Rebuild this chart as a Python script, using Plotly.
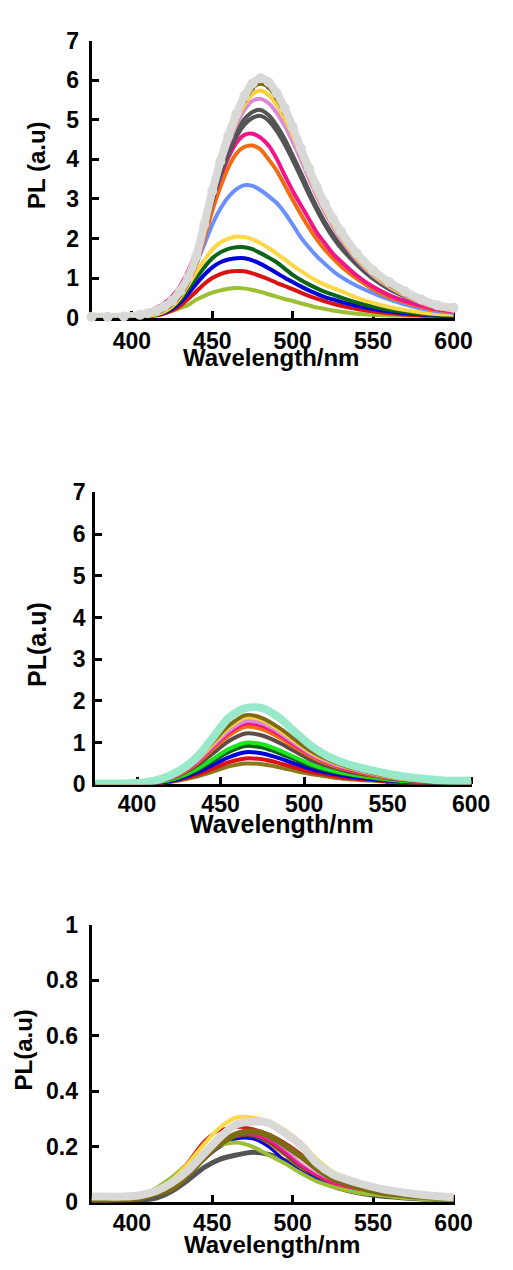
import plotly.graph_objects as go

# ---------------- panel 1 (top) ----------------
wl_a = [375, 385, 395, 405, 410, 415, 420, 425, 430, 435, 440, 445, 450, 455, 460, 465, 470, 475,
        480, 485, 490, 495, 500, 505, 510, 515, 520, 525, 530, 540, 550, 560, 570, 580, 590, 600]

a_grey = [0.02, 0.02, 0.03, 0.07, 0.11, 0.18, 0.28, 0.43, 0.68, 1.02, 1.55, 2.35, 3.2, 3.95, 4.6, 5.15, 5.6, 5.92,
          6.05, 5.95, 5.68, 5.3, 4.82, 4.28, 3.78, 3.3, 2.88, 2.5, 2.18, 1.62, 1.2, 0.9, 0.66, 0.46, 0.31, 0.25]
a_olive = [0.0, 0.01, 0.02, 0.05, 0.09, 0.15, 0.25, 0.4, 0.65, 1.0, 1.53, 2.32, 3.15, 3.9, 4.52, 5.05, 5.48, 5.8,
           5.92, 5.82, 5.55, 5.18, 4.72, 4.2, 3.7, 3.22, 2.8, 2.42, 2.1, 1.55, 1.13, 0.83, 0.6, 0.41, 0.27, 0.21]
a_gold = [0.0, 0.01, 0.02, 0.05, 0.08, 0.14, 0.24, 0.39, 0.63, 0.98, 1.5, 2.28, 3.1, 3.85, 4.45, 4.97, 5.38, 5.65,
          5.74, 5.63, 5.38, 5.03, 4.6, 4.12, 3.62, 3.15, 2.73, 2.36, 2.04, 1.5, 1.09, 0.8, 0.57, 0.39, 0.25, 0.19]
a_orchid = [0.0, 0.01, 0.02, 0.05, 0.08, 0.14, 0.23, 0.38, 0.62, 0.97, 1.48, 2.25, 3.05, 3.8, 4.38, 4.87, 5.25, 5.48,
            5.53, 5.42, 5.18, 4.85, 4.45, 4.0, 3.52, 3.07, 2.66, 2.3, 1.98, 1.45, 1.06, 0.77, 0.55, 0.37, 0.24, 0.18]
a_dgrey1 = [0.0, 0.01, 0.02, 0.05, 0.08, 0.13, 0.22, 0.37, 0.6, 0.95, 1.45, 2.2, 3.0, 3.7, 4.25, 4.7, 5.02, 5.2,
            5.25, 5.12, 4.86, 4.52, 4.1, 3.67, 3.22, 2.8, 2.42, 2.1, 1.82, 1.38, 1.02, 0.75, 0.56, 0.4, 0.28, 0.22]
a_dgrey2 = [0.0, 0.01, 0.02, 0.04, 0.07, 0.13, 0.21, 0.36, 0.58, 0.92, 1.42, 2.15, 2.92, 3.6, 4.13, 4.57, 4.88, 5.05,
            5.1, 4.98, 4.72, 4.38, 3.98, 3.56, 3.12, 2.72, 2.35, 2.03, 1.76, 1.33, 0.98, 0.72, 0.53, 0.38, 0.26, 0.2]
a_pink = [0.0, 0.01, 0.03, 0.09, 0.15, 0.24, 0.36, 0.54, 0.8, 1.18, 1.68, 2.3, 2.95, 3.55, 4.05, 4.42, 4.62, 4.65,
          4.55, 4.35, 4.02, 3.6, 3.2, 2.85, 2.5, 2.15, 1.88, 1.62, 1.42, 1.06, 0.78, 0.57, 0.42, 0.3, 0.21, 0.16]
a_orange = [0.0, 0.01, 0.02, 0.04, 0.07, 0.12, 0.2, 0.33, 0.55, 0.88, 1.35, 2.0, 2.7, 3.3, 3.8, 4.15, 4.32, 4.35,
            4.25, 4.0, 3.72, 3.35, 2.98, 2.62, 2.28, 1.98, 1.72, 1.5, 1.3, 0.98, 0.72, 0.52, 0.39, 0.27, 0.19, 0.15]
a_cornflower = [0.0, 0.0, 0.01, 0.03, 0.06, 0.12, 0.2, 0.34, 0.55, 0.9, 1.35, 1.85, 2.35, 2.75, 3.05, 3.25, 3.35, 3.33,
                3.22, 3.07, 2.9, 2.65, 2.35, 2.03, 1.78, 1.55, 1.36, 1.18, 1.03, 0.8, 0.62, 0.46, 0.33, 0.23, 0.16, 0.12]
a_yellow = [0.0, 0.0, 0.01, 0.02, 0.04, 0.08, 0.15, 0.28, 0.5, 0.82, 1.15, 1.45, 1.72, 1.9, 2.0, 2.05, 2.04, 1.98,
            1.88, 1.76, 1.62, 1.47, 1.32, 1.18, 1.05, 0.93, 0.83, 0.75, 0.67, 0.5, 0.37, 0.27, 0.19, 0.13, 0.09, 0.07]
a_green = [0.0, 0.0, 0.01, 0.02, 0.04, 0.08, 0.14, 0.26, 0.45, 0.72, 1.0, 1.27, 1.5, 1.65, 1.74, 1.78, 1.78, 1.73,
           1.63, 1.52, 1.4, 1.24, 1.08, 0.95, 0.84, 0.74, 0.65, 0.58, 0.51, 0.38, 0.28, 0.2, 0.14, 0.1, 0.07, 0.05]
a_blue = [0.0, 0.0, 0.01, 0.02, 0.03, 0.07, 0.12, 0.22, 0.38, 0.6, 0.85, 1.08, 1.27, 1.4, 1.47, 1.5, 1.5, 1.45,
          1.36, 1.25, 1.13, 1.01, 0.9, 0.79, 0.69, 0.6, 0.52, 0.46, 0.4, 0.3, 0.22, 0.16, 0.11, 0.08, 0.05, 0.04]
a_red = [0.0, 0.0, 0.01, 0.02, 0.03, 0.05, 0.1, 0.18, 0.3, 0.47, 0.66, 0.85, 1.0, 1.1, 1.16, 1.18, 1.17, 1.12,
         1.05, 0.97, 0.88, 0.8, 0.72, 0.63, 0.55, 0.48, 0.41, 0.35, 0.3, 0.22, 0.16, 0.11, 0.08, 0.05, 0.04, 0.03]
a_lime = [0.0, 0.0, 0.01, 0.01, 0.03, 0.07, 0.12, 0.17, 0.24, 0.32, 0.45, 0.55, 0.63, 0.69, 0.73, 0.75, 0.74, 0.7,
          0.65, 0.59, 0.53, 0.47, 0.42, 0.36, 0.31, 0.26, 0.22, 0.18, 0.15, 0.1, 0.07, 0.05, 0.03, 0.02, 0.02, 0.01]

# ---------------- panels 2 and 3 share a coarser wavelength grid ----------------
wl_b = [375, 385, 395, 405, 415, 425, 435, 445, 455, 465, 475, 485, 495, 505, 515, 525, 540, 555, 570, 585, 600]

b_aqua = [0.02, 0.02, 0.03, 0.05, 0.14, 0.32, 0.62, 1.1, 1.6, 1.83, 1.83, 1.6, 1.24, 0.9, 0.66, 0.5, 0.34, 0.22, 0.14, 0.09, 0.09]
b_olive = [0.0, 0.0, 0.02, 0.05, 0.12, 0.28, 0.58, 1.0, 1.41, 1.66, 1.59, 1.36, 1.06, 0.78, 0.58, 0.43, 0.28, 0.17, 0.1, 0.07, 0.05]
b_gold = [0.0, 0.0, 0.02, 0.05, 0.11, 0.27, 0.56, 0.96, 1.36, 1.6, 1.54, 1.31, 1.02, 0.75, 0.56, 0.42, 0.27, 0.16, 0.1, 0.06, 0.05]
b_orchid = [0.0, 0.0, 0.02, 0.05, 0.11, 0.26, 0.53, 0.91, 1.29, 1.52, 1.46, 1.25, 0.97, 0.71, 0.53, 0.4, 0.26, 0.15, 0.09, 0.06, 0.05]
b_pink = [0.0, 0.0, 0.01, 0.04, 0.1, 0.25, 0.51, 0.88, 1.24, 1.46, 1.4, 1.2, 0.93, 0.69, 0.51, 0.38, 0.25, 0.15, 0.09, 0.06, 0.04]
b_orange = [0.0, 0.0, 0.01, 0.04, 0.1, 0.23, 0.48, 0.83, 1.17, 1.38, 1.32, 1.13, 0.88, 0.65, 0.48, 0.36, 0.23, 0.14, 0.08, 0.06, 0.04]
b_brown = [0.0, 0.0, 0.01, 0.04, 0.09, 0.21, 0.43, 0.73, 1.04, 1.22, 1.17, 1.0, 0.78, 0.57, 0.43, 0.32, 0.21, 0.12, 0.07, 0.05, 0.04]
b_lgreen = [0.0, 0.0, 0.01, 0.03, 0.07, 0.17, 0.35, 0.6, 0.85, 1.0, 0.96, 0.82, 0.64, 0.47, 0.35, 0.26, 0.17, 0.1, 0.06, 0.04, 0.03]
b_dgreen = [0.0, 0.0, 0.01, 0.03, 0.06, 0.16, 0.32, 0.55, 0.78, 0.92, 0.88, 0.75, 0.59, 0.43, 0.32, 0.24, 0.16, 0.09, 0.06, 0.04, 0.03]
b_blue = [0.0, 0.0, 0.01, 0.02, 0.05, 0.13, 0.27, 0.46, 0.65, 0.77, 0.74, 0.63, 0.49, 0.36, 0.27, 0.2, 0.13, 0.08, 0.05, 0.03, 0.02]
b_red = [0.0, 0.0, 0.01, 0.02, 0.04, 0.11, 0.22, 0.37, 0.53, 0.62, 0.6, 0.51, 0.4, 0.29, 0.22, 0.16, 0.11, 0.06, 0.04, 0.02, 0.02]
b_khaki = [0.0, 0.0, 0.01, 0.02, 0.04, 0.09, 0.18, 0.3, 0.43, 0.5, 0.48, 0.41, 0.32, 0.24, 0.18, 0.13, 0.09, 0.05, 0.03, 0.02, 0.02]

c_grey = [0.02, 0.02, 0.02, 0.025, 0.04, 0.07, 0.115, 0.175, 0.235, 0.28, 0.29, 0.285, 0.25, 0.205, 0.14, 0.1, 0.07, 0.048, 0.034, 0.024, 0.018]
c_yellow = [0.01, 0.01, 0.015, 0.02, 0.04, 0.08, 0.14, 0.21, 0.27, 0.305, 0.305, 0.29, 0.26, 0.215, 0.155, 0.11, 0.075, 0.05, 0.035, 0.025, 0.02]
c_red = [0.0, 0.0, 0.005, 0.01, 0.03, 0.075, 0.145, 0.22, 0.26, 0.27, 0.265, 0.245, 0.215, 0.175, 0.125, 0.09, 0.058, 0.038, 0.024, 0.015, 0.01]
c_olive = [0.01, 0.01, 0.01, 0.015, 0.03, 0.05, 0.1, 0.16, 0.21, 0.245, 0.255, 0.24, 0.205, 0.165, 0.12, 0.085, 0.055, 0.035, 0.025, 0.018, 0.015]
c_lime = [0.005, 0.005, 0.01, 0.02, 0.05, 0.09, 0.14, 0.18, 0.205, 0.215, 0.2, 0.17, 0.14, 0.105, 0.075, 0.055, 0.035, 0.025, 0.015, 0.01, 0.01]
c_dgrey = [0.0, 0.0, 0.005, 0.008, 0.015, 0.04, 0.08, 0.125, 0.155, 0.17, 0.18, 0.172, 0.15, 0.12, 0.085, 0.058, 0.035, 0.022, 0.015, 0.01, 0.008]
c_orange = [0.005, 0.005, 0.01, 0.015, 0.03, 0.06, 0.11, 0.165, 0.21, 0.232, 0.23, 0.21, 0.17, 0.125, 0.09, 0.065, 0.04, 0.028, 0.02, 0.014, 0.01]
c_pink = [0.005, 0.005, 0.01, 0.015, 0.03, 0.06, 0.11, 0.165, 0.21, 0.238, 0.242, 0.222, 0.18, 0.132, 0.095, 0.068, 0.042, 0.029, 0.02, 0.014, 0.01]
c_blue = [0.0, 0.0, 0.005, 0.01, 0.025, 0.055, 0.1, 0.155, 0.2, 0.228, 0.228, 0.2, 0.15, 0.11, 0.085, 0.062, 0.04, 0.027, 0.018, 0.012, 0.01]
c_green = [0.0, 0.0, 0.005, 0.01, 0.025, 0.055, 0.105, 0.16, 0.205, 0.235, 0.238, 0.218, 0.175, 0.128, 0.092, 0.066, 0.04, 0.028, 0.019, 0.013, 0.01]
c_orchid = [0.01, 0.01, 0.012, 0.03, 0.045, 0.065, 0.115, 0.17, 0.215, 0.24, 0.245, 0.228, 0.19, 0.14, 0.1, 0.072, 0.046, 0.032, 0.022, 0.016, 0.012]

x_ticks = [400, 450, 500, 550, 600]
y_ticks_big = [0, 1, 2, 3, 4, 5, 6, 7]
y_ticks_small = [0, 0.2, 0.4, 0.6, 0.8, 1]
y_ticktext_small = ["0", "0.2", "0.4", "0.6", "0.8", "1"]

COL = {
    "grey": "#d8d9d7", "olive": "#7d6b13", "gold": "#fcd03a", "orchid": "#d98ad8",
    "dgrey": "#545454", "pink": "#f0168a", "orange": "#f26b12", "cornflower": "#6b8ffd",
    "yellow": "#fdd845", "green": "#0b6418", "blue": "#0000d8", "red": "#dc1212",
    "lime": "#9cbf34", "aqua": "#98e9c9", "lgreen": "#1ee61e", "brown": "#5f4b45",
    "khaki": "#8a7a1e",
}

FONT = "Liberation Sans, Arial, Helvetica, sans-serif"

fig = go.Figure()


def add(xs, ys, color, axis, width=4, markers=False, msize=8):
    xa, ya = axis
    fig.add_trace(go.Scatter(
        x=xs, y=ys, xaxis=xa, yaxis=ya, cliponaxis=False,
        mode="lines+markers" if markers else "lines",
        line=dict(color=color, width=width, shape="spline", smoothing=0.8),
        marker=dict(color=color, size=msize, symbol="circle"),
        hoverinfo="skip", showlegend=False,
    ))


# top panel: low curves first, brightest last
p1 = ("x", "y")
for ys, c in [(a_lime, "lime"), (a_red, "red"), (a_blue, "blue"), (a_green, "green"),
              (a_yellow, "yellow"), (a_cornflower, "cornflower"), (a_orange, "orange"),
              (a_pink, "pink"), (a_dgrey2, "dgrey"), (a_dgrey1, "dgrey"), (a_orchid, "orchid"),
              (a_gold, "gold")]:
    add(wl_a, ys, COL[c], p1)
add(wl_a, a_olive, COL["olive"], p1, width=4, markers=True, msize=5)
add(wl_a, a_grey, COL["grey"], p1, width=8, markers=True, msize=10)

# middle panel
p2 = ("x2", "y2")
for ys, c in [(b_khaki, "khaki"), (b_red, "red"), (b_blue, "blue"), (b_dgreen, "green"),
              (b_lgreen, "lgreen"), (b_brown, "brown"), (b_orange, "orange"), (b_pink, "pink"),
              (b_orchid, "orchid"), (b_gold, "gold"), (b_olive, "olive")]:
    add(wl_b, ys, COL[c], p2)
add(wl_b, b_aqua, COL["aqua"], p2, width=8)

# bottom panel
p3 = ("x3", "y3")
for ys, c, w in [(c_dgrey, "dgrey", 5), (c_orchid, "orchid", 3), (c_orange, "orange", 3),
                 (c_blue, "blue", 3), (c_green, "green", 3), (c_pink, "pink", 3),
                 (c_lime, "lime", 4), (c_red, "red", 3), (c_yellow, "yellow", 4),
                 (c_olive, "olive", 6)]:
    add(wl_b, ys, COL[c], p3, width=w)
add(wl_b, c_grey, COL["grey"], p3, width=8)


def axis_style(**kw):
    d = dict(showline=True, linecolor="black", linewidth=3, ticks="inside", ticklen=7,
             tickwidth=3, tickcolor="black", showgrid=False, zeroline=False, mirror=False,
             layer="below traces", fixedrange=True,
             tickfont=dict(family=FONT, size=23, color="black", weight="bold"))
    d.update(kw)
    return d


H = 1270.0
W = 513.0


def py(px):
    return 1 - px / H


def pxx(px):
    return px / W


fig.update_layout(
    width=513, height=1270, margin=dict(l=0, r=0, t=0, b=0),
    paper_bgcolor="white", plot_bgcolor="white", showlegend=False,
    xaxis=axis_style(domain=[pxx(95), pxx(471.7)], range=[375, 601], anchor="y",
                     tickvals=x_ticks, ticklabelstandoff=1),
    yaxis=axis_style(domain=[py(311), py(28.3)], range=[0, 7], anchor="x",
                     tickvals=y_ticks_big, ticklabelstandoff=5),
    xaxis2=axis_style(domain=[pxx(98.7), pxx(489.3)], range=[375, 600.6], anchor="y2",
                      tickvals=x_ticks, ticklabelstandoff=-3),
    yaxis2=axis_style(domain=[py(787.5), py(489.3)], range=[0, 7], anchor="x2",
                      tickvals=y_ticks_big, ticklabelstandoff=2),
    xaxis3=axis_style(domain=[pxx(95), pxx(471.7)], range=[375, 601], anchor="y3",
                      tickvals=x_ticks, ticklabelstandoff=-2),
    yaxis3=axis_style(domain=[py(1214), py(930.7)], range=[0, 1], anchor="x3",
                      tickvals=y_ticks_small, ticktext=y_ticktext_small, ticklabelstandoff=6),
)

TITLE_FONT = dict(family=FONT, color="black", weight="bold")


def title(text, xpx, ypx, size, angle=0):
    fig.add_annotation(text=text, xref="paper", yref="paper", x=pxx(xpx), y=py(ypx),
                       xanchor="center", yanchor="middle", showarrow=False, textangle=angle,
                       font=dict(size=size, **TITLE_FONT))


title("Wavelength/nm", 281, 352, 24)
title("Wavelength/nm", 292, 828, 25)
title("Wavelength/nm", 282, 1257, 24)
title("PL (a.u)", 38.5, 155, 24, -90)
title("PL(a.u)", 38.5, 645, 25, -90)
title("PL(a.u)", 24, 1059, 24, -90)

fig.write_html("out.html")
